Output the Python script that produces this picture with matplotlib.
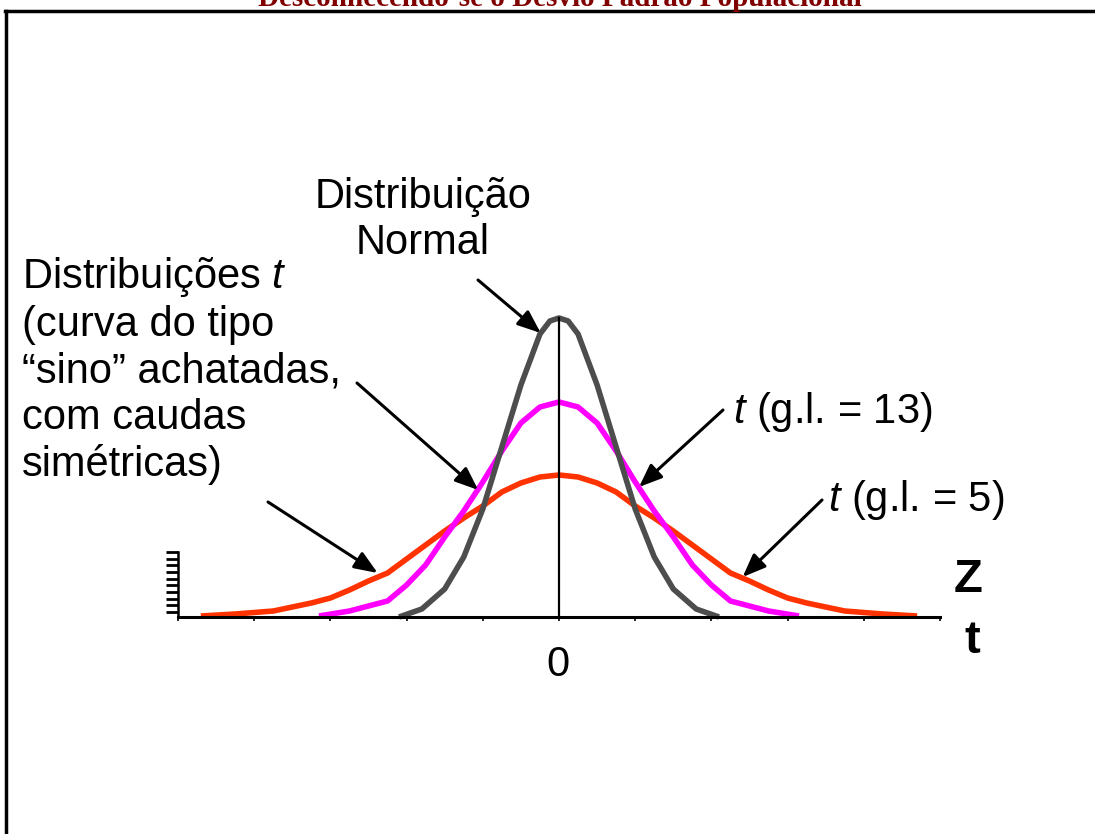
import matplotlib
matplotlib.use("Agg")
import matplotlib.pyplot as plt
from matplotlib.lines import Line2D

# ----------------------------------------------------------------
# Data (x in axis units, y in curve height units)
normal_x = [-2.1, -1.8, -1.5, -1.25, -1.0, -0.75, -0.5, -0.25, -0.12, 0.0,
            0.12, 0.25, 0.5, 0.75, 1.0, 1.25, 1.5, 1.8, 2.1]
normal_y = [0, 8, 28, 60, 108, 170, 232, 283, 296, 299,
            296, 283, 232, 170, 108, 60, 28, 8, 0]

t13_x = [-3.15, -2.75, -2.5, -2.25, -2.0, -1.75, -1.5, -1.25, -1.0, -0.75,
         -0.5, -0.25, 0.0, 0.25, 0.5, 0.75, 1.0, 1.25, 1.5, 1.75, 2.0,
         2.25, 2.5, 2.75, 3.15]
t13_y = [1, 6, 11, 16, 32, 52, 80, 106, 135, 166,
         194, 210, 215, 210, 194, 166, 135, 106, 80, 52, 32,
         16, 11, 6, 1]

t5_x = [-4.7, -4.25, -3.75, -3.5, -3.25, -3.0, -2.75, -2.5, -2.25, -2.0,
        -1.75, -1.5, -1.25, -1.0, -0.75, -0.5, -0.25, 0.0,
        0.25, 0.5, 0.75, 1.0, 1.25, 1.5, 1.75, 2.0, 2.25, 2.5, 2.75,
        3.0, 3.25, 3.5, 3.75, 4.25, 4.7]
t5_y = [1, 3, 6, 10, 14, 19, 27, 36, 44, 58,
        72, 86, 99, 111, 125, 134, 140, 142,
        140, 134, 125, 111, 99, 86, 72, 58, 44, 36, 27,
        19, 14, 10, 6, 3, 1]

x_ticks = [-5, -4, -3, -2, -1, 0, 1, 2, 3, 4, 5]
y_ticks = [5, 11.7, 18.3, 25, 31.7, 38.3, 45, 51.7, 58.3, 65]

title = "Desconhecendo-se o Desvio Padrão Populacional"
left_label = ("Distribuições $t$\n(curva do tipo\n\u201csino\u201d achatadas,\n"
              "com caudas\nsimétricas)")
normal_label = "Distribuição\nNormal"
t13_label = "$t$ (g.l. = 13)"
t5_label = "$t$ (g.l. = 5)"

plt.rcParams['font.family'] = ['Liberation Sans', 'DejaVu Sans']
plt.rcParams['mathtext.fontset'] = 'custom'
plt.rcParams['mathtext.rm'] = 'Liberation Sans'
plt.rcParams['mathtext.it'] = 'Liberation Sans:italic'

W, H = 1095, 834


def fpx(x, y):
    # top-left pixel -> figure fraction
    return x / W, 1 - y / H


fig = plt.figure(figsize=(W / 100, H / 100), dpi=100)
ax = fig.add_axes([178 / W, (H - 617) / H, 762 / W, 317 / H])
ax.set_xlim(-5, 5)
ax.set_ylim(0, 317)
ax.patch.set_alpha(0)

line_kw = dict(lw=4.0, clip_on=False, solid_joinstyle="round",
               solid_capstyle="butt")
ax.plot(t5_x, t5_y, color="#FF3300", zorder=3, **line_kw)
ax.plot(t13_x, t13_y, color="#FF00FF", zorder=4, **line_kw)
ax.plot(normal_x, normal_y, color="#4D4D4D", zorder=5, **line_kw)
ax.plot([0, 0], [0, max(normal_y)], color="black", lw=1.6, zorder=6)

for s in ("top", "right"):
    ax.spines[s].set_visible(False)
ax.spines["bottom"].set_linewidth(2.2)
ax.spines["bottom"].set_zorder(7)
ax.spines["left"].set_linewidth(1.8)
ax.spines["left"].set_bounds(0, 65)
ax.set_xticks(x_ticks)
ax.set_xticklabels([])
ax.tick_params(axis="x", direction="out", length=3, width=1.2)
ax.set_yticks(y_ticks)
ax.set_yticklabels([])
ax.tick_params(axis="y", direction="out", length=8.5, width=2.0)

# texts
fig.text(*fpx(560, 6), title, ha="center", va="baseline", color="#800000",
         family="Liberation Serif", weight="bold", fontsize=21)
fig.text(*fpx(22, 370), left_label, ha="left", va="center", fontsize=30,
         linespacing=1.2)
fig.text(*fpx(423, 220), normal_label, ha="center", va="center", fontsize=30,
         linespacing=1.2, multialignment="center")
fig.text(*fpx(733, 412), t13_label, ha="left", va="center", fontsize=30)
fig.text(*fpx(828, 500), t5_label, ha="left", va="center", fontsize=30)
fig.text(*fpx(968, 580), "Z", ha="center", va="center", fontsize=34,
         weight="bold")
fig.text(*fpx(972, 641), "t", ha="center", va="center", fontsize=34,
         weight="bold")
fig.text(*fpx(558, 665), "0", ha="center", va="center", fontsize=30)

# arrows: (tip in data units, start in figure pixels)
arrows = [((-0.24, 284), (478, 280)),
          ((-1.06, 127), (357, 383)),
          ((-2.38, 44), (268, 502)),
          ((1.05, 130), (723, 410)),
          ((2.41, 40), (822, 500))]
for tip, start in arrows:
    ax.annotate("", xy=tip, xycoords="data",
                xytext=fpx(*start), textcoords="figure fraction",
                arrowprops=dict(arrowstyle="-|>,head_length=0.7,head_width=0.28",
                                mutation_scale=20, lw=2.2, color="black",
                                shrinkA=0, shrinkB=0),
                zorder=8, annotation_clip=False)

# slide frame
fig.add_artist(Line2D([5 / W, 1], [1 - 11 / H, 1 - 11 / H], color="black",
                      lw=2.5, transform=fig.transFigure))
fig.add_artist(Line2D([5.5 / W, 5.5 / W], [0, 1 - 11 / H], color="black",
                      lw=2.5, transform=fig.transFigure))

fig.savefig("out.png", dpi=100)
